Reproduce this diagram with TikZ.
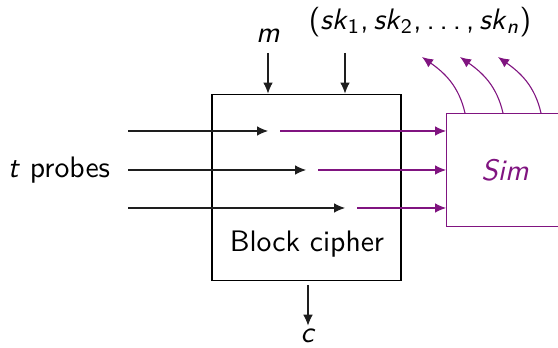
\documentclass[tikz,border=0pt]{standalone}
\usepackage{tikz}
\usetikzlibrary{arrows.meta,positioning}
\renewcommand{\familydefault}{\sfdefault}
\usepackage{xcolor}
\definecolor{simclr}{RGB}{128, 20, 128}
\definecolor{probeclr}{RGB}{30, 30, 30}
\tikzset{
  % Qutilar
  cipherbox/.style = {draw, thin, minimum width=2.42cm, minimum height=2.39cm, inner sep=0pt},
  simbox/.style    = {draw=simclr, thin, minimum width=3cm, minimum height=1.446cm, inner sep=0pt, anchor=north west},
  % O'q chiziqlari
  probe/.style     = {-{Latex[length=4pt,width=3.5pt]}, thin, probeclr},
  simarrow/.style  = {-{Latex[length=4pt,width=3.5pt]}, thin, simclr},
  % Etiketlar
  lab/.style       = {inner sep=1pt, font=\fontsize{10.8}{13}\selectfont},
}
\newcommand{\skey}[1]{\textit{sk}\textsubscript{#1}}

\begin{document}
\begin{tikzpicture}[x=0.0128cm, y=-0.0128cm]
  \useasboundingbox (0,0) rectangle (558,348);
  \clip (0,0) rectangle (558,348);
  % Blokli shifr
  \node[cipherbox] (cipher) at (306.5,187.5) {};
  \node[lab] (cipherlab) at (307,244) {Block cipher};
  \node[lab, simclr] (simlab) at (505,170) {\textit{Sim}};
  \node[simbox] (sim) at (446,113) {};
  % Kirish va chiqish
  \node[lab] (msg) at (268,36) {\textit{m}};
  \node[lab] (keys) at (420,22) {(\skey{1},\,\skey{2},\,.\,.\,.\,,\,\skey{\textit{n}})};
  \node[lab] (ctxt) at (308,336) {\textit{c}};
  \node[lab] (probes) at (59,170) {\textit{t} probes};
  \coordinate (msgtop) at (268,53);
  \coordinate (keytop) at (345,53);
  \draw[probe] (msgtop) -- (msgtop |- cipher.north);
  \draw[probe] (keytop) -- (keytop |- cipher.north);
  \coordinate (ctop) at (308,285);
  \draw[probe] (ctop) -- (ctxt.north);
  % Problar
  \foreach \y/\tip in {131/268, 170/306, 208/345} {
    \coordinate (pin) at (128,\y);
    \coordinate (ptip) at (\tip,\y);
    \coordinate (pout) at (\tip+12,\y);
    \draw[probe] (pin) -- (ptip);
    \draw[simarrow] (pout) -- (pout -| sim.west);
  }
  % Sim chiqishlari
  \foreach \x in {465, 503, 541} {
    \coordinate (sout) at (\x,113);
    \coordinate (send) at (\x-43,57);
    \draw[simarrow] (sout) to[out=103, in=-35] (send);
  }
\end{tikzpicture}
\end{document}
